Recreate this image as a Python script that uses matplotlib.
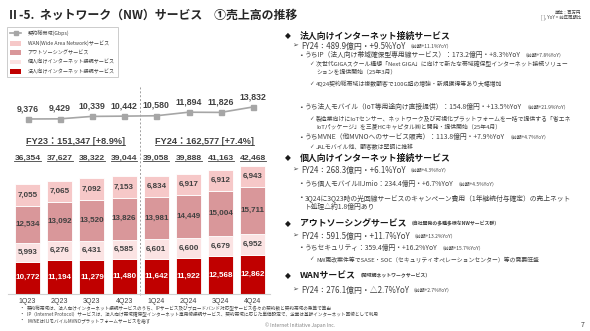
import matplotlib
matplotlib.use('Agg')
import matplotlib.pyplot as plt
from matplotlib.lines import Line2D
from matplotlib.patches import Patch
from matplotlib.transforms import IdentityTransform, blended_transform_factory
import numpy as np

plt.rcParams['font.family'] = ['Noto Sans CJK JP', 'DejaVu Sans']

# ---------------- data ----------------
quarters = ['1Q23', '2Q23', '3Q23', '4Q23', '1Q24', '2Q24', '3Q24', '4Q24']
corporate = [10772, 11194, 11279, 11480, 11642, 11922, 12568, 12862]
personal = [5993, 6276, 6431, 6585, 6601, 6600, 6679, 6952]
outsourcing = [12534, 13092, 13520, 13826, 13981, 14449, 15004, 15711]
wan = [7055, 7065, 7092, 7153, 6834, 6917, 6912, 6943]
bandwidth = [9376, 9429, 10339, 10442, 10580, 11894, 11826, 13832]
fy_labels = ['FY23：151,347 [+8.9%]', 'FY24：162,577 [+7.4%]']
legend_names = ['契約総帯域(Gbps)', 'WAN(Wide Area Network)サービス', 'アウトソーシングサービス',
                '個人向けインターネット接続サービス', '法人向けインターネット接続サービス']

C_CORP = '#C00000'
C_PERS = '#FBE3E3'
C_OUT = '#D9979A'
C_WAN = '#F6C8C8'
C_LINE = '#A6A6A6'
TXT = '#404040'
NUMFONT = ['Liberation Sans', 'Noto Sans CJK JP']

W, H = 590, 331
fig = plt.figure(figsize=(W / 100, H / 100), dpi=100)

# background axes in pixel coordinates for slide text
bg = fig.add_axes([0, 0, 1, 1])
bg.set_xlim(0, W)
bg.set_ylim(H, 0)
bg.axis('off')

# ---------------- chart axes ----------------
L, R, B, T = 8, 270, 294, 80
ax = fig.add_axes([L / W, 1 - B / H, (R - L) / W, (B - T) / H])
ax.set_facecolor('none')
c0, step = 27.5, 32.2
ax.set_xlim((L - c0) / step, (R - c0) / step)
ax.set_ylim(0, (B - T) / 0.003014)
x = np.arange(len(quarters))
bw = 0.78
bottoms = np.zeros(len(quarters))
stack = [(corporate, C_CORP, 'white'), (personal, C_PERS, TXT),
         (outsourcing, C_OUT, TXT), (wan, C_WAN, TXT)]
for vals, col, tc in stack:
    vals = np.array(vals)
    ax.bar(x, vals, bw, bottom=bottoms, color=col, edgecolor='white', linewidth=0.6, zorder=2)
    for xi, b, v in zip(x, bottoms, vals):
        ax.text(xi, b + v / 2, f'{v:,}', ha='center', va='center', fontsize=5.8,
                fontweight='bold', color=tc, family=NUMFONT, zorder=3)
    bottoms = bottoms + vals
totals = bottoms

for s in ['top', 'left', 'right']:
    ax.spines[s].set_visible(False)
ax.spines['bottom'].set_color('#D0D0D0')
ax.spines['bottom'].set_linewidth(0.8)
ax.set_yticks([])
ax.set_xticks(x)
ax.set_xticklabels(quarters, fontsize=5, color=TXT, family=NUMFONT)
ax.tick_params(axis='x', length=0, pad=3)

btrans = blended_transform_factory(ax.transData, ax.transAxes)
ytot = (B - 158) / (B - T)
yfy = (B - 141) / (B - T)
under = []
for xi, tv in zip(x, totals):
    t = ax.text(xi, ytot, f'{int(tv):,}', transform=btrans, ha='center', va='center',
                fontsize=6.1, fontweight='bold', color=TXT, family=NUMFONT)
    under.append(t)
for k, lab in enumerate(fy_labels):
    t = ax.text(np.mean(x[4 * k:4 * k + 4]), yfy, lab, transform=btrans, ha='center', va='center',
                fontsize=6.6, fontweight='bold', color=TXT, family=NUMFONT)
    under.append(t)

ax.plot([3.5, 3.5], [-0.005, (B - 85) / (B - T)], transform=btrans, color='#A0A0A0',
        lw=0.7, ls=(0, (2, 2)), clip_on=False, zorder=1)

# line on twin axis
ax2 = ax.twinx()
ax2.set_facecolor('none')
slope = 0.002693
inter = 149.75
ax2.set_ylim(-inter / slope, ((B - T) - inter) / slope)
ax2.axis('off')
ax2.plot(x, bandwidth, color=C_LINE, lw=1.2, marker='s', markersize=3.6, zorder=4)
for xi, v in zip(x, bandwidth):
    ax2.annotate(f'{v:,}', (xi, v), xytext=(0, 7.5), textcoords='offset points', ha='center',
                 va='center', fontsize=6.3, fontweight='bold', color=TXT, family=NUMFONT)

# legend
handles = [Line2D([], [], color=C_LINE, lw=1.2, marker='s', markersize=3),
           Patch(facecolor=C_WAN), Patch(facecolor=C_OUT), Patch(facecolor=C_PERS), Patch(facecolor=C_CORP)]
leg = fig.legend(handles, legend_names, loc='upper left', bbox_to_anchor=(7 / W, 1 - 27 / H),
                 borderaxespad=0, fontsize=3.7, frameon=True, fancybox=False, edgecolor='#BFBFBF',
                 labelspacing=0.8, handlelength=2.2, handleheight=1.0, handletextpad=1.2, borderpad=0.6)
leg.get_frame().set_linewidth(0.7)
for t in leg.get_texts():
    t.set_color(TXT)

# ---------------- slide text ----------------
bg.text(7, 15, 'Ⅱ-5.  ネットワーク（NW）サービス　①売上高の推移', fontsize=8.6, fontweight='bold',
        color='#262626', va='center', ha='left')
bg.text(581, 12, '単位：百万円', fontsize=3.2, color=TXT, ha='right', va='center')
bg.text(581, 17, '[ ], YoY = 前年同期比', fontsize=3.2, color=TXT, ha='right', va='center')

lines = [
    # (marker, xm, xt, y, text, size, weight, small)
    ('◆', 285, 300, 36, '法人向けインターネット接続サービス', 6.4, 'bold', None),
    ('➢', 292, 301, 46, 'FY24：489.9億円・+9.5%YoY', 5.7, 'normal', '（前期+11.1%YoY）'),
    ('•', 299, 305, 55, 'うちIP（法人向け帯域確保型専用線サービス）：173.2億円・+8.3%YoY', 4.9, 'normal', '（前期+7.8%YoY）'),
    ('✓', 309, 316, 64, '次世代GIGAスクール構想「Next GIGA」に向けて新たな帯域確保型インターネット接続ソリュー', 4.2, 'normal', None),
    (None, 309, 316, 71.5, 'ションを提供開始（25年3月）', 4.2, 'normal', None),
    ('✓', 309, 316, 84, '4Q24契約総帯域は複数顧客で100G超の増強・新規獲得等あり大幅増加', 4.2, 'normal', None),
    ('•', 299, 305, 107, 'うち法人モバイル（IoT等用途向け直接提供）：154.8億円・+13.5%YoY', 4.9, 'normal', '（前期+21.9%YoY）'),
    ('✓', 309, 316, 119, '製造業向けにIoTセンサー、ネットワーク及び可視化プラットフォームを一括で提供する「省エネ', 4.2, 'normal', None),
    (None, 309, 316, 126.5, 'IoTパッケージ」を三菱HCキャピタル㈱と開発・提供開始（25年4月）', 4.2, 'normal', None),
    ('•', 299, 305, 137, 'うちMVNE（他MVNOへのサービス販売）：113.8億円・+7.9%YoY', 4.9, 'normal', '（前期+4.7%YoY）'),
    ('✓', 309, 316, 147, 'JALモバイル他、顧客数は堅調に推移', 4.2, 'normal', None),
    ('◆', 285, 300, 158, '個人向けインターネット接続サービス', 6.4, 'bold', None),
    ('➢', 292, 301, 170, 'FY24：268.3億円・+6.1%YoY', 5.7, 'normal', '（前期+4.3%YoY）'),
    ('•', 299, 305, 184, 'うち個人モバイルIIJmio：234.4億円・+6.7%YoY', 4.9, 'normal', '（前期+4.5%YoY）'),
    ('•', 299, 305, 198, '3Q24に3Q23時の光回線サービスのキャンペーン費用（1年継続付与確定）の売上ネット', 4.9, 'normal', None),
    (None, 299, 305, 207, 'ト処理△約1.8億円あり', 4.9, 'normal', None),
    ('◆', 285, 300, 224, 'アウトソーシングサービス', 6.4, 'bold', '（自社開発の多種多様なNWサービス群）'),
    ('➢', 292, 301, 236, 'FY24：591.5億円・+11.7%YoY', 5.7, 'normal', '（前期+13.2%YoY）'),
    ('•', 299, 305, 248, 'うちセキュリティ：359.4億円・+16.2%YoY', 4.9, 'normal', '（前期+15.7%YoY）'),
    ('✓', 309, 316, 259, 'NW更改案件等でSASE・SOC（セキュリティオペレーションセンター）等の需要旺盛', 4.2, 'normal', None),
    ('◆', 285, 300, 276, 'WANサービス', 6.4, 'bold', '（閉域網ネットワークサービス）'),
    ('➢', 292, 301, 290, 'FY24：276.1億円・△2.7%YoY', 5.7, 'normal', '（前期+2.7%YoY）'),
]
for mk, xm, xt, y, txt, size, wt, small in lines:
    col = '#1A1A1A' if wt == 'bold' else TXT
    if mk is not None:
        msize = {'◆': 5.5, '➢': 5.0, '•': 4.5, '✓': 4.0}[mk]
        bg.text(xm, y, mk, fontsize=msize, color=col, ha='left', va='center',
                family=['DejaVu Sans'])
    t = bg.text(xt, y, txt, fontsize=size, fontweight=wt, color=col, ha='left', va='center')
    if small:
        bg.annotate(small, xy=(1, 0.5), xycoords=t, xytext=(1.5, 0), textcoords='offset points',
                    fontsize=3.5, color=TXT, ha='left', va='center',
                    fontweight='bold' if wt == 'bold' else 'normal')

foot = ['契約総帯域は、法人向けインターネット接続サービスのうち、IPサービス及びブロードバンド対応型サービス各々の契約数と契約帯域の乗算で算出',
        'IP（Internet Protocol）サービスは、法人向け帯域確保型インターネット専用線接続サービス、契約帯域に応じた単価設定で、企業は基幹インターネット回線として利用',
        'MVNEはIIJモバイルMVNOプラットフォームサービスを指す']
for i, f in enumerate(foot):
    yy = 309 + 6 * i
    bg.text(20, yy, '•', fontsize=3.2, color=TXT, va='center', family=['DejaVu Sans'])
    bg.text(27, yy, f, fontsize=3.3, color=TXT, va='center')
bg.text(300, 325, '© Internet Initiative Japan Inc.', fontsize=3.5, color='#808080', ha='center', va='center')
bg.text(583, 325, '7', fontsize=5, color=TXT, ha='center', va='center')

# underline totals and FY labels
fig.canvas.draw()
rend = fig.canvas.get_renderer()
for t in under:
    bb = t.get_window_extent(rend)
    fig.add_artist(Line2D([bb.x0, bb.x1], [bb.y0 + 0.8, bb.y0 + 0.8], transform=IdentityTransform(),
                          color=TXT, lw=0.6))

fig.savefig('out.png', dpi=100)
